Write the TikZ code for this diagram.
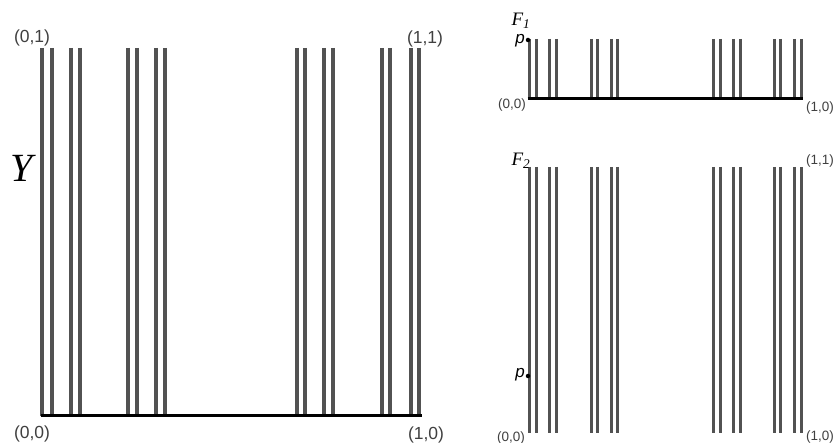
\documentclass[tikz,border=0pt]{standalone}
\usepackage{fontspec}
\setmainfont{Liberation Serif}
\setsansfont{Liberation Sans}
\begin{document}
\begin{tikzpicture}[x=1pt,y=-1pt,
  bar/.style={draw=black!68,line width=3.6pt},
  sbar/.style={draw=black!68,line width=3pt},
  base/.style={draw=black,line width=3pt},
  biglab/.style={font=\sffamily\fontsize{17.5}{17.5}\selectfont,text=black!75,inner sep=0pt},
  smalllab/.style={font=\sffamily\fontsize{13.5}{13.5}\selectfont,text=black!75,inner sep=0pt},
  plab/.style={font=\sffamily\itshape\fontsize{17}{17}\selectfont,inner sep=0pt},
  flab/.style={font=\itshape\fontsize{19}{19}\selectfont,inner sep=0pt},
  dot/.style={circle,fill=black,inner sep=0pt,minimum size=4.5pt}]
\useasboundingbox[fill=white] (0,0) rectangle (838,443);
% left diagram Y
\foreach \x in {42,52,71,80,128,137,156,165,297,305,324,333,382,390,411,419}
  \draw[bar] (\x,48) -- (\x,416);
\draw[base] (40.5,416) -- (421.5,416);
\node[biglab] (l01) at (32,38) {(0,1)};
\node[biglab] (l11) at (425,39) {(1,1)};
\node[biglab] (l00) at (32,434) {(0,0)};
\node[biglab] (l10) at (426,435) {(1,0)};
\node[font=\itshape\fontsize{40}{40}\selectfont,inner sep=0pt] (Y) at (22,168) {Y};
% F1
\foreach \x in {529,536,549.5,556.5,591,597.5,611,617.5,713.5,720,733.5,740,774,780,794.5,801}
  \draw[sbar] (\x,39) -- (\x,99);
\draw[base] (527.5,99) -- (803,99);
\node[flab] (F1) at (521,21) {F\textsubscript{1}};
\node[dot] (p1) at (528,40) {};
\node[plab] (p1l) at (520,41) {p};
\node[smalllab] (f1a) at (512,105) {(0,0)};
\node[smalllab] (f1b) at (820,108) {(1,0)};
% F2
\foreach \x in {529,536,549.5,556.5,591,597.5,611,617.5,713.5,720,733.5,740,774,780,794.5,801}
  \draw[sbar] (\x,167) -- (\x,433);
\node[flab] (F2) at (521,161) {F\textsubscript{2}};
\node[dot] (p2) at (528,376) {};
\node[plab] (p2l) at (520,375) {p};
\node[smalllab] (f2c) at (820,161) {(1,1)};
\node[smalllab] (f2a) at (511,438) {(0,0)};
\node[smalllab] (f2b) at (820,437) {(1,0)};
\end{tikzpicture}
\end{document}
